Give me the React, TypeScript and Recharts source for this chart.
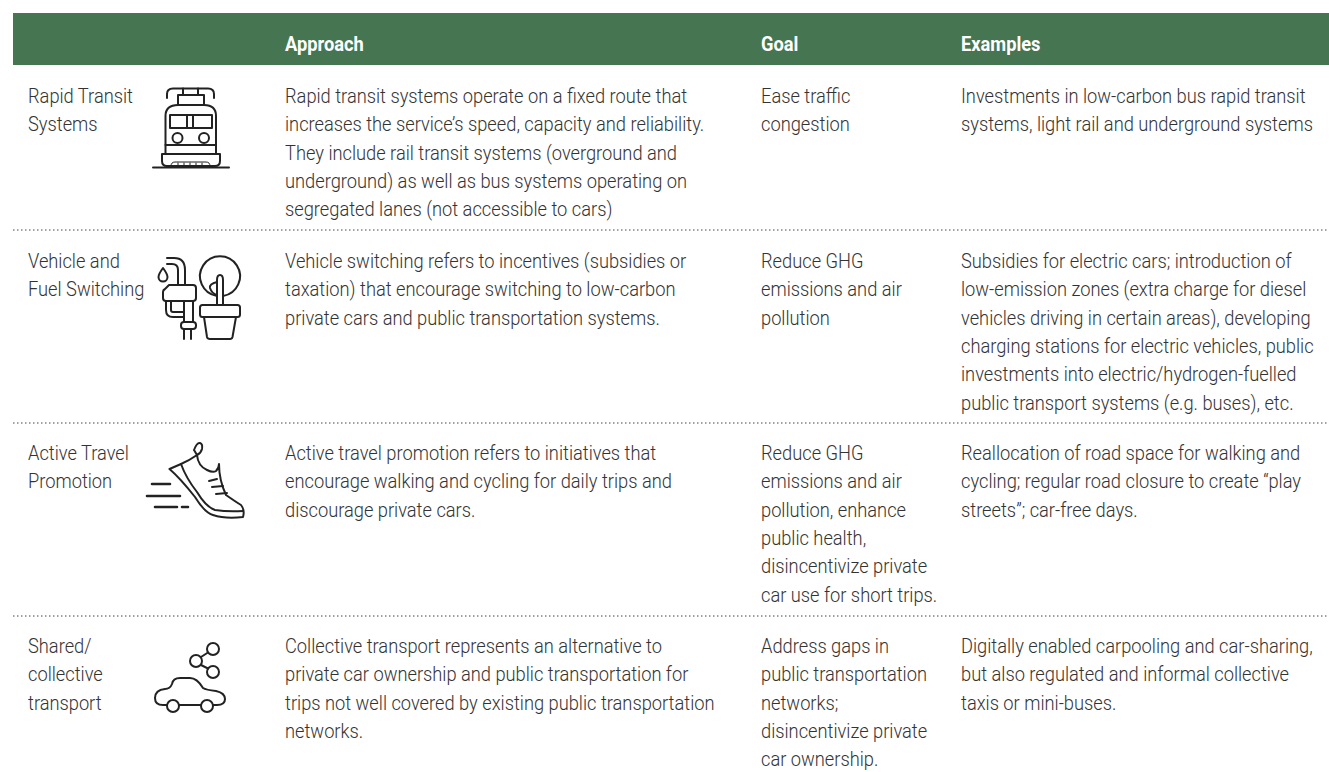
import { ScatterChart, Scatter, XAxis, YAxis, ReferenceArea, ReferenceLine } from 'recharts';

const HEADERS = ['Approach', 'Goal', 'Examples'];

const NAMES = [
  ['Rapid Transit', 'Systems'],
  ['Vehicle and', 'Fuel Switching'],
  ['Active Travel', 'Promotion'],
  ['Shared/', 'collective', 'transport'],
];

const APPROACHES = [
  [
    'Rapid transit systems operate on a fixed route that',
    'increases the service’s speed, capacity and reliability.',
    'They include rail transit systems (overground and',
    'underground) as well as bus systems operating on',
    'segregated lanes (not accessible to cars)',
  ],
  [
    'Vehicle switching refers to incentives (subsidies or',
    'taxation) that encourage switching to low-carbon',
    'private cars and public transportation systems.',
  ],
  [
    'Active travel promotion refers to initiatives that',
    'encourage walking and cycling for daily trips and',
    'discourage private cars.',
  ],
  [
    'Collective transport represents an alternative to',
    'private car ownership and public transportation for',
    'trips not well covered by existing public transportation',
    'networks.',
  ],
];

const GOALS = [
  ['Ease traffic', 'congestion'],
  ['Reduce GHG', 'emissions and air', 'pollution'],
  ['Reduce GHG', 'emissions and air', 'pollution, enhance', 'public health,', 'disincentivize private', 'car use for short trips.'],
  ['Address gaps in', 'public transportation', 'networks;', 'disincentivize private', 'car ownership.'],
];

const EXAMPLES = [
  ['Investments in low-carbon bus rapid transit', 'systems, light rail and underground systems'],
  [
    'Subsidies for electric cars; introduction of',
    'low-emission zones (extra charge for diesel',
    'vehicles driving in certain areas), developing',
    'charging stations for electric vehicles, public',
    'investments into electric/hydrogen-fuelled',
    'public transport systems (e.g. buses), etc.',
  ],
  ['Reallocation of road space for walking and', 'cycling; regular road closure to create “play', 'streets”; car-free days.'],
  ['Digitally enabled carpooling and car-sharing,', 'but also regulated and informal collective', 'taxis or mini-buses.'],
];

// layout of the table, in page pixels (the axes run 1:1 over the page)
const WIDTH = 1329;
const HEIGHT = 772;
const COLUMN_X = [28, 285, 761, 961];
const ROW_BASELINE = [103, 268, 460, 653];
const DIVIDERS = [230, 423, 616];
const LINE_HEIGHT = 28.3;
const FONT = 'Roboto, sans-serif';
const SQUEEZE = 0.87;

const columnPoints = (rows: string[][], column: number) =>
  rows.flatMap((lines, row) =>
    lines.map((label, i) => ({ x: COLUMN_X[column], y: ROW_BASELINE[row] + i * LINE_HEIGHT, label })),
  );

const headerPoints = HEADERS.map((label, i) => ({ x: COLUMN_X[i + 1], y: 51, label }));
const iconPoints = [0, 1, 2, 3].map((i) => ({ x: 0, y: 0, icon: i }));

const BodyText = (props: any) => (
  <text
    transform={`translate(${props.cx} ${props.cy}) scale(${SQUEEZE} 1)`}
    fontFamily={FONT}
    fontSize={21}
    fontWeight={300}
    fill="#333333"
  >
    {props.payload.label}
  </text>
);

const HeaderText = (props: any) => (
  <text
    transform={`translate(${props.cx} ${props.cy}) scale(${SQUEEZE} 1)`}
    fontFamily={FONT}
    fontSize={21}
    fontWeight={700}
    fill="#ffffff"
  >
    {props.payload.label}
  </text>
);

const Train = () => (
  <g>
    <path d="M167 98 V94 Q167 88.5 173 88.5 H208 Q214 88.5 214 94 V98" />
    <path d="M183 88.5 V95 M198 88.5 V95" />
    <rect x={178} y={95} width={26} height={10} />
    <path d="M165.5 154 V116 Q165.5 105 178 105 H204 Q216 105 216 116 V154" />
    <rect x={170} y={115} width={42} height={13} />
    <path d="M187 115 V128 M193 115 V128" />
    <circle cx={177.5} cy={138} r={5} />
    <circle cx={204} cy={138} r={5} />
    <path d="M165.5 145 H216" />
    <path d="M162 154 H220 V161 Q220 166 215 166 H167 Q162 166 162 161 Z" />
    <path d="M153 167.5 H229" />
    <path d="M171 166 Q171 162 175 162 H206 Q210 162 210 166 M178 163 V166 M184 163 V166 M190 163 V166 M196 163 V166 M202 163 V166" strokeWidth={1} />
  </g>
);

const FuelPlant = () => (
  <g>
    <path d="M167 258 H174 Q185 258 185 270 V285 M167 264 H172 Q178 264 178 270 V285" />
    <path d="M163 268 Q158.5 274 158.5 277 A4.5 4.5 0 0 0 167.5 277 Q167.5 274 163 268 Z" />
    <path d="M169 285 H193 Q196 285 196 288 V298 Q196 301 193 301 H166 Q163 301 163 298 V292 Q163 290 165 289 Z" />
    <path d="M166 301 V310 Q166 317 173 317 H184 M171 301 V310 Q171 312 173 312 H184" />
    <path d="M184 301 V322 M193 301 V322" />
    <rect x={181} y={322} width={15} height={7} rx={3} />
    <path d="M184 329 V339 M191 329 V339" />
    <path d="M217 296 A20 20 0 1 1 223 296" />
    <path d="M217 304 V280 Q217 275 220 275 Q223 275 223 280 V304" />
    <path d="M217 282 Q209 284 210 288 Q212 294 217 295" />
    <rect x={200} y={305} width={40} height={12} rx={2.5} />
    <path d="M204 317 L207 337 Q207.5 339 210 339 H230 Q232 339 232.5 337 L236 317" />
  </g>
);

const Shoe = () => (
  <g>
    <path d="M152 484 H170 M147 496 H180 M155 507 H177 M182 507 H188" strokeWidth={2.6} />
    <path d="M197 455 L194 450 Q197 442 200 443 Q203 444 202 449 Q201 453 197 455 Z" />
    <path d="M169.5 469 L181 464 Q190 460 197 455 Q198 466 207 470 Q213 473 216 471 Q219 468 219 464 Q219 480 226 495 Q236 502 241 505 Q245 510 243 517 Q225 519 213 515 Q205 513 195 497 Q180 478 169.5 469 Z" />
    <path d="M181 464 Q186 478 197 492 Q206 507 215 510 Q228 512 243 511" />
    <path d="M209 481 L217 479 M212 487 L223 486 M216 494 L227 493" />
  </g>
);

const SharedCar = () => (
  <g>
    <circle cx={213} cy={649} r={6} />
    <circle cx={196} cy={661} r={6} />
    <circle cx={213} cy={672} r={6} />
    <path d="M201 657 L208 652.5 M201 665 L208 668.5" />
    <path d="M167 705 H163 Q155 705 155 698 Q155 690 165 689 Q170 689 172 684 Q173 678 180 678 H190 Q197 678 203 688 Q206 690 216 691 Q225 693 225 699 Q225 705 217 705 H213 M201 705 H179" />
    <circle cx={173} cy={706} r={6} />
    <circle cx={207} cy={706} r={6} />
  </g>
);

const ICON_SHAPES = [Train, FuelPlant, Shoe, SharedCar];

const IconShape = (props: any) => {
  const Icon = ICON_SHAPES[props.payload.icon];
  return (
    <g fill="none" stroke="#222222" strokeWidth={2} strokeLinecap="round" strokeLinejoin="round">
      <Icon />
    </g>
  );
};

export default function App() {
  return (
    <div style={{ position: 'absolute', left: 0, top: 0, width: WIDTH, height: HEIGHT, background: '#fff' }}>
      <ScatterChart width={WIDTH} height={HEIGHT} margin={{ top: 0, right: 0, bottom: 0, left: 0 }}>
        <XAxis type="number" dataKey="x" domain={[0, WIDTH]} hide />
        <YAxis type="number" dataKey="y" domain={[0, HEIGHT]} reversed hide />
        <ReferenceArea x1={13} x2={WIDTH} y1={13} y2={65} fill="#467551" fillOpacity={1} stroke="none" />
        {DIVIDERS.map((y) => (
          <ReferenceLine
            key={y}
            segment={[{ x: 13, y }, { x: WIDTH, y }]}
            stroke="#444444"
            strokeWidth={1}
            strokeDasharray="1.5 2.5"
          />
        ))}
        <Scatter data={headerPoints} shape={HeaderText} isAnimationActive={false} />
        <Scatter data={columnPoints(NAMES, 0)} shape={BodyText} isAnimationActive={false} />
        <Scatter data={columnPoints(APPROACHES, 1)} shape={BodyText} isAnimationActive={false} />
        <Scatter data={columnPoints(GOALS, 2)} shape={BodyText} isAnimationActive={false} />
        <Scatter data={columnPoints(EXAMPLES, 3)} shape={BodyText} isAnimationActive={false} />
        <Scatter data={iconPoints} shape={IconShape} isAnimationActive={false} />
      </ScatterChart>
    </div>
  );
}
